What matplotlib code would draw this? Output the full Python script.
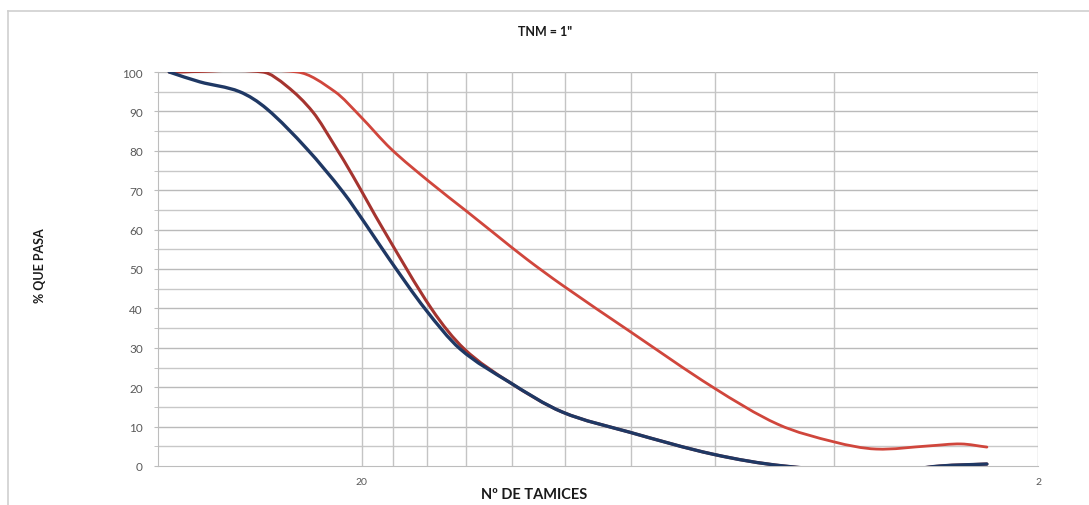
import numpy as np
import matplotlib
matplotlib.use('Agg')
from matplotlib import pyplot as plt
from matplotlib.path import Path
from matplotlib.patches import PathPatch
from matplotlib.ticker import FixedLocator, NullFormatter, NullLocator

# sieve number (log axis, reversed) vs % passing
blue_x = [38.5, 34.7, 30.3, 27.6, 24.1, 21.3, 19.66, 18.2, 16.1, 14.3, 12.1, 10.1, 8.04, 6.05, 4.75, 3.4, 2.79, 2.38]
blue_y = [100, 97.5, 95, 90.6, 80.5, 69.5, 61, 52.5, 39.8, 29.7, 21.3, 13.7, 8.6, 3, 0, -1.5, 0, 0.5]

dred_x = [38.5, 28.0, 25.8, 23.6, 21.9, 20.6, 18.6, 15.75, 14.1, 12.1, 10.1, 8.04, 6.05, 4.75, 3.4, 2.79, 2.38]
dred_y = [100, 100, 96.4, 89.8, 81.2, 73.6, 60.2, 39.8, 29.7, 21.3, 13.7, 8.6, 3, 0, -1.5, 0, 0.5]

red_x = [38.5, 24.9, 21.9, 20.1, 18.1, 15.87, 14.0, 12.64, 11.4, 10.1, 8.03, 6.05, 4.85, 4.0, 3.47, 2.9, 2.6, 2.38]
red_y = [100, 100, 95, 88.8, 80.5, 72.1, 64.7, 58.6, 52.5, 45.9, 34.2, 20, 10.6, 6.1, 4.3, 5.1, 5.6, 4.8]

xgrid = [2, 4, 6, 8, 10, 12, 14, 16, 18, 20]
xlabels = [20, 2]


def smooth_path(xs, ys):
    # smoothed line through the points: cubic hermite in (log x, y)
    lx = np.log10(xs)
    py = np.array(ys, float)
    n = len(lx)
    m = np.zeros(n)
    for i in range(n):
        a, b = max(i - 1, 0), min(i + 1, n - 1)
        m[i] = (py[b] - py[a]) / (lx[b] - lx[a])
    verts = [(xs[0], ys[0])]
    codes = [Path.MOVETO]
    for i in range(n - 1):
        h = lx[i + 1] - lx[i]
        c1 = (lx[i] + h / 3, py[i] + m[i] * h / 3)
        c2 = (lx[i + 1] - h / 3, py[i + 1] - m[i + 1] * h / 3)
        verts += [(10 ** c1[0], c1[1]), (10 ** c2[0], c2[1]), (xs[i + 1], ys[i + 1])]
        codes += [Path.CURVE4] * 3
    return Path(verts, codes)


fig = plt.figure(figsize=(10.89, 5.06), dpi=100)
ax = fig.add_axes([158/1089, 1-467/506, 880/1089, 394/506])

ax.set_xscale('log')
ax.set_xlim(40, 2)
ax.set_ylim(0, 100)

# grid
for v in np.arange(5, 101, 5):
    ax.axhline(v, color='#c8c8c8' if v % 10 else '#bababa', lw=1.0, zorder=1)
for v in xgrid:
    ax.axvline(v, color='#c4c4c4', lw=1.0, zorder=1)

for xs, ys, col, lw, z in [(red_x, red_y, '#d0463c', 2.0, 3),
                           (dred_x, dred_y, '#a5342f', 2.2, 4),
                           (blue_x, blue_y, '#1f3864', 2.4, 5)]:
    ax.add_patch(PathPatch(smooth_path(xs, ys), fill=False, edgecolor=col,
                           lw=lw, zorder=z, capstyle='round', joinstyle='round'))

ax.xaxis.set_major_locator(FixedLocator(xlabels))
ax.xaxis.set_minor_locator(NullLocator())
ax.xaxis.set_minor_formatter(NullFormatter())
ax.set_xticklabels([str(v) for v in xlabels])
ax.set_yticks(np.arange(0, 101, 10))
ax.set_yticks(np.arange(5, 100, 10), minor=True)

ax.tick_params(axis='y', which='both', direction='out', length=3, color='#bdbdbd',
               labelsize=8.5, labelcolor='#595959', pad=8)
ax.tick_params(axis='x', which='both', length=0, labelsize=7.5, labelcolor='#595959', pad=8)
for lab in ax.get_xticklabels() + ax.get_yticklabels():
    lab.set_family('Lato')

for s in ['top', 'right']:
    ax.spines[s].set_visible(False)
ax.spines['left'].set_color('#bdbdbd')
ax.spines['bottom'].set_color('#bdbdbd')
ax.set_facecolor('white')

fig.text(545/1089, 1-32/506, 'TNM = 1"', ha='center', va='center',
         fontsize=9, fontweight='bold', family='Lato', color='#1a1a1a')
fig.text(40/1089, 1-266/506, '% QUE PASA', ha='center', va='center', rotation=90,
         fontsize=9, fontweight='bold', family='Lato', color='#1a1a1a')
fig.text(534/1089, 1-495/506, 'Nº DE TAMICES', ha='center', va='center',
         fontsize=10.5, fontweight='bold', family='Lato', color='#1a1a1a')

# chart area border
fig.add_artist(plt.Line2D([8/1089, 1.0], [1-12/506, 1-12/506], color='#cfcfcf', lw=1.2))
fig.add_artist(plt.Line2D([8/1089, 8/1089], [1-12/506, 0.0], color='#cfcfcf', lw=1.2))

fig.savefig('out.png', dpi=100)
